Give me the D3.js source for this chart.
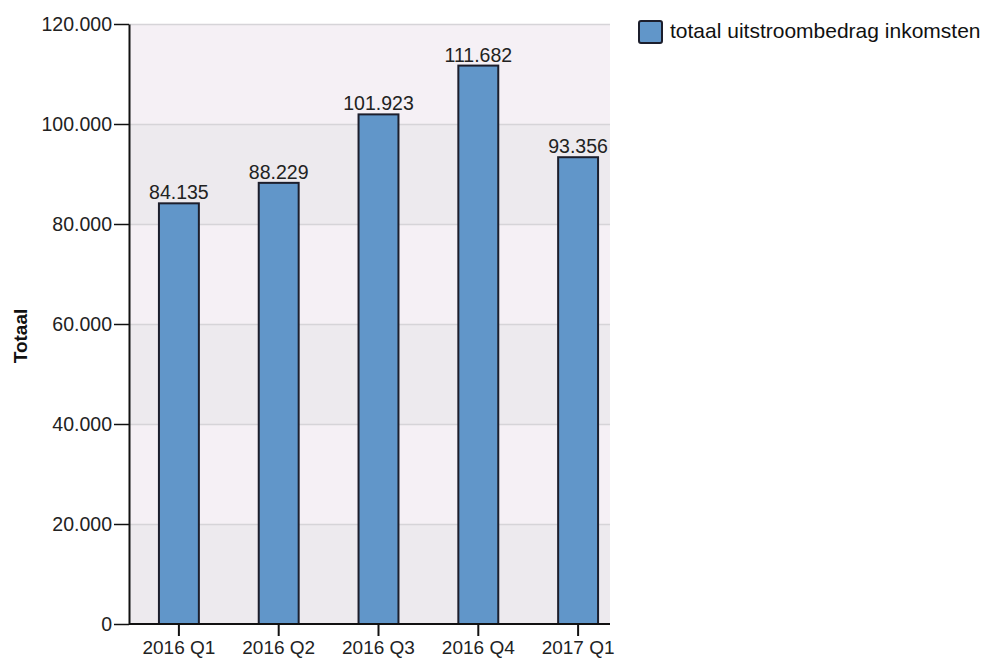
<!DOCTYPE html>
<html><head><meta charset="utf-8">
<script src="https://cdn.jsdelivr.net/npm/d3@7/dist/d3.min.js"></script>
<style>body{margin:0;background:#fff}svg{display:block}text{font-family:Arial,"Liberation Sans",sans-serif}</style>
</head><body><svg width="991" height="661"></svg>
<script>
const categories = ["2016 Q1","2016 Q2","2016 Q3","2016 Q4","2017 Q1"];
const values = [84135, 88229, 101923, 111682, 93356];
const yTicks = [0, 20000, 40000, 60000, 80000, 100000, 120000];
const seriesName = "totaal uitstroombedrag inkomsten";
const yTitle = "Totaal";

(function(){
const nl = d3.formatLocale({decimal: ",", thousands: ".", grouping: [3], currency: ["€", ""]});
const fmt = nl.format(",d");
const FF = "Arial, 'Liberation Sans', sans-serif";

const svg = d3.select("svg");
const pLeft = 129, pRight = 610, pTop = 24, pBottom = 624;
const y = d3.scaleLinear().domain([0, 120000]).range([pBottom, pTop]);
const x = d3.scaleBand().domain(categories).range([pLeft, pLeft + 499]).paddingInner(0.6).paddingOuter(0.3);

// background bands
const bandColors = ["#edeaee", "#f5f0f5"];
for (let i = 0; i < yTicks.length - 1; i++) {
  svg.append("rect").attr("x", pLeft).attr("width", pRight - pLeft)
    .attr("y", y(yTicks[i+1])).attr("height", y(yTicks[i]) - y(yTicks[i+1]))
    .attr("fill", bandColors[i % 2]);
}
// gridlines
svg.append("g").selectAll("line").data(yTicks.slice(1)).join("line")
  .attr("x1", pLeft).attr("x2", pRight).attr("y1", d => y(d)+0.5).attr("y2", d => y(d)+0.5)
  .attr("stroke", "#d6d4d8").attr("stroke-width", 1.5);

// bars
svg.append("g").selectAll("rect").data(values).join("rect")
  .attr("x", (d,i) => x(categories[i]))
  .attr("width", x.bandwidth())
  .attr("y", d => y(d))
  .attr("height", d => pBottom - y(d))
  .attr("fill", "#6196c9").attr("stroke", "#1c1e2c").attr("stroke-width", 2);

// value labels
svg.append("g").selectAll("text").data(values).join("text")
  .attr("x", (d,i) => x(categories[i]) + x.bandwidth()/2)
  .attr("y", d => y(d) - 4)
  .attr("text-anchor", "middle").attr("font-size", 19.5).attr("fill", "#222")
  .text(d => fmt(d));

// y axis
const yAxis = d3.axisLeft(y).tickValues(yTicks).tickFormat(d => fmt(d)).tickSize(15).tickSizeOuter(0);
const gy = svg.append("g").attr("transform", `translate(${pLeft},0)`).call(yAxis);
gy.select(".domain").attr("stroke", "#111").attr("stroke-width", 2);
gy.selectAll(".tick line").attr("stroke", "#111").attr("stroke-width", 1.5);
gy.selectAll(".tick text").attr("font-size", 19.5).attr("fill", "#222").attr("x", -17)
  .attr("font-family", FF);

// x axis
const xAxis = d3.axisBottom(x).tickSize(12).tickSizeOuter(0);
const gx = svg.append("g").attr("transform", `translate(0,${pBottom})`).call(xAxis);
gx.select(".domain").attr("d", `M${pLeft},0H${pRight}`).attr("stroke", "#111").attr("stroke-width", 2);
gx.selectAll(".tick line").attr("stroke", "#111").attr("stroke-width", 2);
gx.selectAll(".tick text").attr("font-size", 19).attr("fill", "#222").attr("y", 17)
  .attr("font-family", FF);

// y title
svg.append("text").attr("transform", `translate(27,${(pTop+pBottom)/2 + 12}) rotate(-90)`)
  .attr("text-anchor", "middle").attr("font-size", 19).attr("font-weight", "bold").attr("fill", "#111")
  .text(yTitle);

// legend
const lg = svg.append("g").attr("transform", "translate(638,20)");
lg.append("rect").attr("x", 1).attr("y", 1).attr("width", 23).attr("height", 22).attr("rx", 2)
  .attr("fill", "#6196c9").attr("stroke", "#1c1e2c").attr("stroke-width", 2);
lg.append("text").attr("x", 32).attr("y", 18).attr("font-size", 21).attr("fill", "#111").text(seriesName);
})();
</script></body></html>
